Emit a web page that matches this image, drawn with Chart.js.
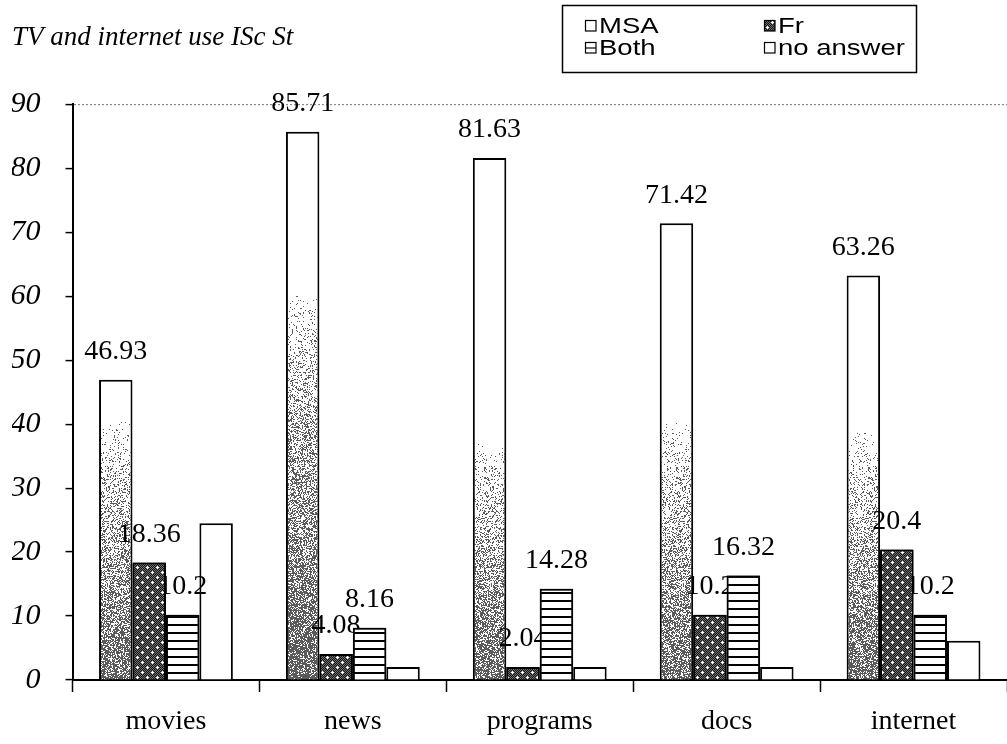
<!DOCTYPE html>
<html>
<head>
<meta charset="utf-8">
<script src="https://cdn.jsdelivr.net/npm/chart.js@4/dist/chart.umd.min.js"></script>
<style>
  html, body { margin: 0; padding: 0; background: #fff; }
  #wrap { width: 1007px; height: 744px; }
</style>
</head>
<body>
<div id="wrap"><canvas id="c" width="1007" height="744"></canvas></div>
<script>
// Categories and series (percent of students)
const categories = ['movies', 'news', 'programs', 'docs', 'internet'];
const seriesNames = ['MSA', 'Fr', 'Both', 'no answer'];
const msaValues = [46.93, 85.71, 81.63, 71.42, 63.26];
const frValues = [18.36, 4.08, 2.04, 10.2, 20.4];
const bothValues = [10.2, 8.16, 14.28, 16.32, 10.2];
const noAnswerValues = [24.49, 2.04, 2.04, 2.04, 6.12];
const yTickValues = [0, 10, 20, 30, 40, 50, 60, 70, 80, 90];
const chartTitle = 'TV and internet use ISc St';

const canvas = document.getElementById('c');
const ctx2d = canvas.getContext('2d');

// --- fills -----------------------------------------------------------
// grainy grey shading that deepens towards the foot of the MSA bars
function grain(x, y) {
  const h = Math.sin(x * 12.9898 + y * 78.233) * 43758.5453;
  return h - Math.floor(h);
}
function shadedFill(startY, endY, maxDensity) {
  const w = 64, h = 744;
  const c = document.createElement('canvas');
  c.width = w; c.height = h;
  const g = c.getContext('2d');
  const img = g.createImageData(w, h);
  for (let y = 0; y < h; y++) {
    let t = (y - startY) / (endY - startY);
    t = Math.max(0, Math.min(1, t));
    const density = maxDensity * Math.pow(t, 0.8);
    for (let x = 0; x < w; x++) {
      const dark = grain(x, y) < density;
      const v = dark ? 90 : 255;
      const k = (y * w + x) * 4;
      img.data[k] = v; img.data[k + 1] = v; img.data[k + 2] = v; img.data[k + 3] = 255;
    }
  }
  g.putImageData(img, 0, 0);
  return ctx2d.createPattern(c, 'repeat');
}
// where the shading begins for each category's MSA bar, and how deep it gets
const msaShadeStart = [420, 290, 440, 420, 430];
const msaShadeDepth = [0.72, 0.8, 0.72, 0.68, 0.7];
const msaFills = msaShadeStart.map((s, i) => shadedFill(s, 680, msaShadeDepth[i]));

// dark cross-hatch with white dots
function frFill() {
  const s = 10;
  const c = document.createElement('canvas');
  c.width = s; c.height = s;
  const g = c.getContext('2d');
  for (let y = 0; y < s; y++) {
    for (let x = 0; x < s; x++) {
      g.fillStyle = (x + y) % 2 ? '#151515' : '#6e6e6e';
      g.fillRect(x, y, 1, 1);
    }
  }
  g.fillStyle = '#ffffff';
  [[2, 2], [7, 7]].forEach(([cx, cy]) => {
    g.fillRect(cx - 1, cy, 3, 1);
    g.fillRect(cx, cy - 1, 1, 3);
  });
  return ctx2d.createPattern(c, 'repeat');
}
// horizontal stripes
function bothFill() {
  const c = document.createElement('canvas');
  c.width = 8; c.height = 8;
  const g = c.getContext('2d');
  g.fillStyle = '#ffffff';
  g.fillRect(0, 0, 8, 8);
  g.fillStyle = '#000000';
  g.fillRect(0, 0, 8, 2);
  return ctx2d.createPattern(c, 'repeat');
}
const frPattern = frFill();
const bothPattern = bothFill();

// --- plugins ---------------------------------------------------------
// value labels above MSA, Fr and Both bars; Fr and Both bars are
// redrawn afterwards so they sit in front of neighbouring labels
const valueLabels = {
  id: 'valueLabels',
  afterDatasetsDraw(chart) {
    const ctx = chart.ctx;
    ctx.save();
    ctx.font = '28px "Liberation Serif", "Times New Roman", serif';
    ctx.fillStyle = '#000';
    ctx.textAlign = 'center';
    ctx.textBaseline = 'middle';
    [0, 1, 2].forEach(di => {
      const meta = chart.getDatasetMeta(di);
      const vals = chart.data.datasets[di].data;
      meta.data.forEach((bar, i) => {
        ctx.fillText(String(vals[i]), bar.x, bar.y - 28);
      });
    });
    ctx.restore();
    const area = chart.chartArea;
    ctx.save();
    ctx.beginPath();
    ctx.rect(area.left, area.top - 40, area.right - area.left, area.bottom - area.top + 40);
    ctx.clip();
    [1, 2].forEach(di => chart.getDatasetMeta(di).controller.draw());
    ctx.restore();
  }
};

// boxed two-column legend in the top right corner
const boxLegend = {
  id: 'boxLegend',
  afterDraw(chart) {
    const ctx = chart.ctx;
    const box = { x: 562.5, y: 5.5, w: 354, h: 67 };
    const cols = [585, 764];
    const rows = [25, 47];
    const slots = [[0, 0], [1, 0], [0, 1], [1, 1]]; // MSA, Fr, Both, no answer
    ctx.save();
    ctx.fillStyle = '#fff';
    ctx.fillRect(box.x, box.y, box.w, box.h);
    ctx.strokeStyle = '#000';
    ctx.lineWidth = 1.5;
    ctx.strokeRect(box.x, box.y, box.w, box.h);
    ctx.font = '22px "Liberation Sans", Arial, sans-serif';
    ctx.textBaseline = 'middle';
    ctx.textAlign = 'left';
    chart.data.datasets.forEach((ds, i) => {
      const [c, r] = slots[i];
      const x = cols[c], cy = rows[r];
      // swatch
      ctx.fillStyle = i === 1 ? frPattern : '#fff';
      ctx.fillRect(x, cy - 5, 11, 11);
      ctx.lineWidth = 1.2;
      ctx.strokeStyle = '#000';
      ctx.strokeRect(x + 0.5, cy - 4.5, 10.5, 10.5);
      if (i === 2) {
        ctx.beginPath();
        ctx.moveTo(x, cy + 1);
        ctx.lineTo(x + 11, cy + 1);
        ctx.stroke();
      }
      // label, drawn slightly widened
      ctx.fillStyle = '#000';
      ctx.save();
      ctx.translate(x + 14, cy + 2);
      ctx.scale(1.25, 1);
      ctx.fillText(ds.label, 0, 0);
      ctx.restore();
    });
    ctx.restore();
  }
};

Chart.defaults.font.family = '"Liberation Serif", "Times New Roman", serif';
Chart.defaults.color = '#000';

const barStyle = {
  borderColor: '#000',
  borderWidth: 2,
  barPercentage: 1.0,
  categoryPercentage: 0.716
};

new Chart(canvas, {
  type: 'bar',
  data: {
    labels: categories,
    datasets: [
      Object.assign({ label: seriesNames[0], data: msaValues,
        backgroundColor: c => msaFills[c.dataIndex] || '#fff' }, barStyle),
      Object.assign({ label: seriesNames[1], data: frValues, backgroundColor: frPattern }, barStyle),
      Object.assign({ label: seriesNames[2], data: bothValues, backgroundColor: bothPattern }, barStyle),
      Object.assign({ label: seriesNames[3], data: noAnswerValues, backgroundColor: '#fff' }, barStyle)
    ]
  },
  options: {
    responsive: false,
    animation: false,
    layout: { padding: { left: 12, right: -2, top: 0, bottom: 0 } },
    plugins: {
      legend: { display: false },
      tooltip: { enabled: false },
      title: {
        display: true,
        text: chartTitle,
        align: 'start',
        color: '#000',
        font: { family: '"Liberation Serif", "Times New Roman", serif', size: 27, style: 'italic', weight: 'normal' },
        padding: { top: 22, bottom: 50 }
      }
    },
    scales: {
      x: {
        grid: { offset: true, drawOnChartArea: false, tickLength: 12, tickColor: '#000', tickWidth: 1.5 },
        border: { color: '#000', width: 2 },
        ticks: { color: '#000', padding: 13, maxRotation: 0, font: { size: 28 } },
        afterFit(s) { s.height = 64; }
      },
      y: {
        min: yTickValues[0],
        max: yTickValues[yTickValues.length - 1],
        afterBuildTicks(s) { s.ticks = yTickValues.map(v => ({ value: v })); },
        ticks: { color: '#000', padding: 25, font: { size: 30, style: 'italic' } },
        grid: {
          color: c => (c.tick && c.tick.value === 90) ? '#8a8a8a' : 'rgba(0,0,0,0)',
          lineWidth: 1.2,
          tickColor: '#000',
          tickLength: 7,
          tickWidth: 1.5
        },
        border: {
          color: '#000',
          width: 2,
          dash: c => (c.tick && c.tick.value === 90) ? [2, 2] : []
        },
        afterFit(s) { s.width = 60.5; }
      }
    }
  },
  plugins: [valueLabels, boxLegend]
});
</script>
</body>
</html>
